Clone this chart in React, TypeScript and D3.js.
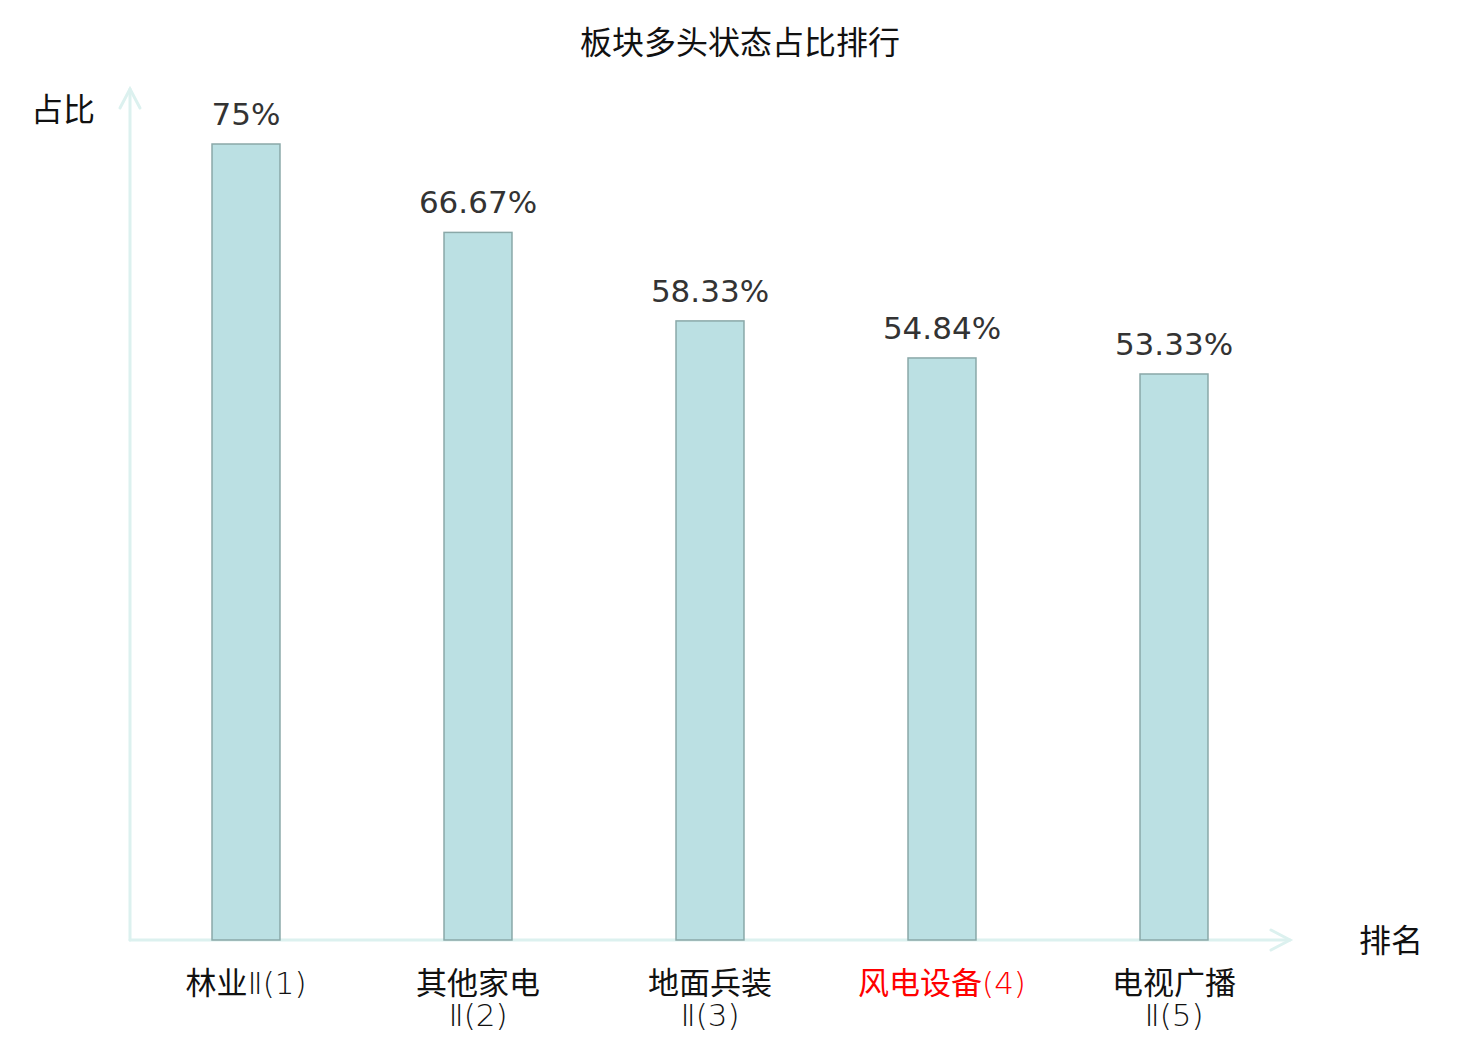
import React from "react";
import * as d3 from "d3";

// 板块多头状态占比排行
const sectors = ["林业Ⅱ", "其他家电Ⅱ", "地面兵装Ⅱ", "风电设备", "电视广播Ⅱ"];
const ratios = [75, 66.67, 58.33, 54.84, 53.33];
const valueLabels = ["75%", "66.67%", "58.33%", "54.84%", "53.33%"];
const highlightIndex = 3;

const W = 1480;
const H = 1040;
const origin = { x: 130, y: 940 };
const xEnd = 1290;
const yTop = 144;

const cjk = '"Noto Sans CJK SC", "Noto Sans", sans-serif';
const latin = '"DejaVu Sans", sans-serif';
const axisColor = "#dcf1ef";

// Chinese part of the label and the "Ⅱ(n)" tail; long labels go on two lines
const splitLabel = (name, rank) => {
  const han = name.replace(/Ⅱ/g, "");
  const tail = name.slice(han.length) + `(${rank})`;
  return han.length + tail.length <= 7 ? [[han, tail]] : [[han, ""], ["", tail]];
};

const App = () => {
  const x = d3.scaleBand().domain(sectors).range([origin.x, xEnd]).padding(0);
  const y = d3.scaleLinear().domain([0, d3.max(ratios)]).range([origin.y, yTop]);
  const barW = x.bandwidth() * 0.293;

  return (
    <svg width={W} height={H} style={{ position: "absolute", left: 0, top: 0, background: "#fff" }}>
      <text x={740} y={54} textAnchor="middle" fontFamily={cjk} fontSize={32} fill="#111">
        板块多头状态占比排行
      </text>

      {/* axes */}
      <g stroke={axisColor} strokeWidth={3} fill="none" strokeLinecap="round">
        <line x1={origin.x} y1={origin.y} x2={origin.x} y2={89} />
        <polyline points={`120,108 ${origin.x},89 140,108`} />
        <line x1={origin.x} y1={origin.y} x2={xEnd} y2={origin.y} />
        <polyline points={`${xEnd - 19},930 ${xEnd},${origin.y} ${xEnd - 19},950`} />
      </g>
      <text x={63} y={121} textAnchor="middle" fontFamily={cjk} fontSize={32} fill="#111">
        占比
      </text>
      <text x={1391} y={952} textAnchor="middle" fontFamily={cjk} fontSize={32} fill="#111">
        排名
      </text>

      {sectors.map((s, i) => {
        const cx = x(s) + x.bandwidth() / 2;
        const top = y(ratios[i]);
        const lines = splitLabel(s, i + 1);
        const color = i === highlightIndex ? "#f00" : "#111";
        return (
          <g key={s}>
            <rect
              x={cx - barW / 2}
              y={top}
              width={barW}
              height={origin.y - top}
              fill="#bbe0e3"
              stroke="#8aa8a8"
              strokeWidth={1.5}
            />
            <text x={cx} y={top - 19} textAnchor="middle" fontFamily={latin} fontSize={31} fill="#333">
              {valueLabels[i]}
            </text>
            {lines.map(([han, tail], j) => (
              <text
                key={j}
                x={cx}
                y={994 + j * 32}
                textAnchor="middle"
                fontFamily={cjk}
                fontSize={31}
                fill={color}
              >
                {han}
                {tail && (
                  <tspan fontFamily={latin} fontWeight={200}>
                    {tail}
                  </tspan>
                )}
              </text>
            ))}
          </g>
        );
      })}
    </svg>
  );
};

export default App;
